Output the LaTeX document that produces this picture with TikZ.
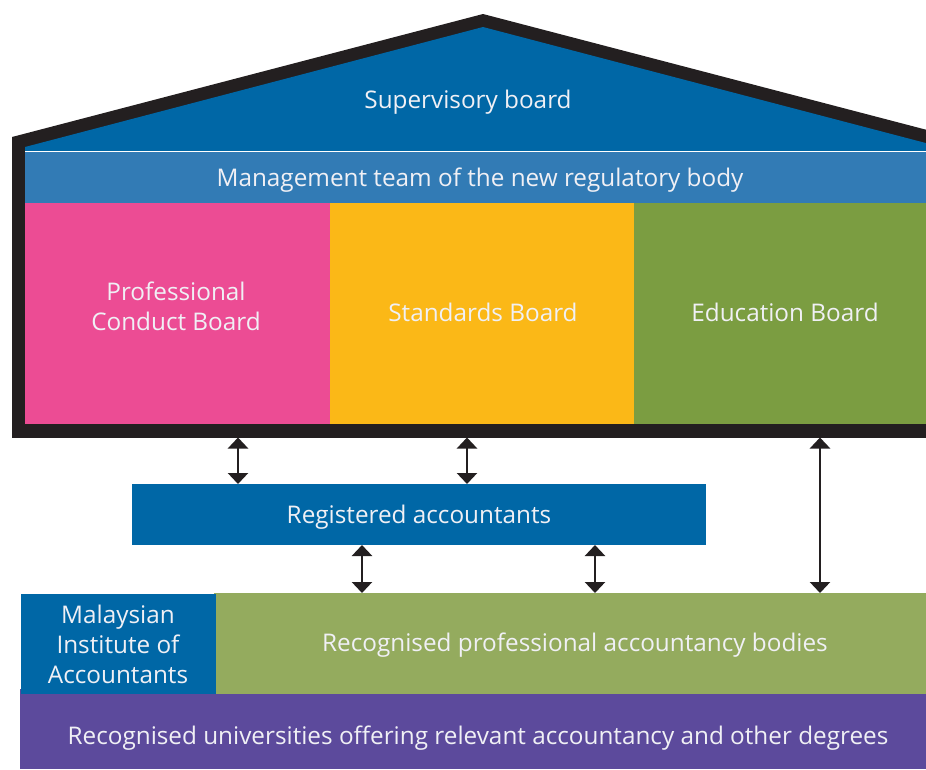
\documentclass[tikz,border=0pt]{standalone}
\usepackage{fontspec}
\setmainfont{Open Sans}
\usetikzlibrary{arrows.meta}
\definecolor{roofblue}{RGB}{0,103,166}
\definecolor{mgmtblue}{RGB}{50,123,181}
\definecolor{pinkc}{RGB}{236,76,148}
\definecolor{yellowc}{RGB}{251,184,23}
\definecolor{greenc}{RGB}{123,157,65}
\definecolor{lgreen}{RGB}{148,171,94}
\definecolor{purplec}{RGB}{92,74,156}
\definecolor{housek}{RGB}{35,31,32}
\definecolor{txt}{RGB}{240,240,245}
\begin{document}
\begin{tikzpicture}[x=1pt,y=-1pt,
  box/.style={draw=none,inner sep=0pt,outer sep=0pt,text=txt,align=center,
    font=\fontsize{24.3}{30}\selectfont},
  dar/.style={{Triangle[width=20pt,length=11pt]}-{Triangle[width=20pt,length=11pt]},
    line width=2.6pt,draw=housek}]
\useasboundingbox (0,0) rectangle (926,769);
\begin{scope}
\clip (0,0) rectangle (926,769);
% house outline
\fill[housek] (12,137) -- (483,14) -- (954,137) -- (954,437) -- (12,437) -- cycle;
% roof interior
\fill[roofblue] (25,147) -- (483,27) -- (941,147) -- (941,151) -- (25,151) -- cycle;
\fill[white] (25,151) rectangle (941,152.3);
\node[box,fill=mgmtblue,minimum width=916pt,minimum height=51pt,anchor=north west] (mgmt) at (25,152) {};
\node[box,anchor=center] (sup) at (468,102.5) {Supervisory board};
\node[box] at (480,180) {Management team of the new regulatory body};
\node[box,fill=pinkc,minimum width=305pt,minimum height=220.5pt,anchor=north west] (pcb) at (25,203) {};
\node[box,fill=yellowc,minimum width=304pt,minimum height=220.5pt,anchor=north west] (sb) at (330,203) {};
\node[box,fill=greenc,minimum width=307pt,minimum height=220.5pt,anchor=north west] (eb) at (634,203) {};
\node[box] at (176,306) {Professional\\Conduct Board};
\node[box] at (483,312) {Standards Board};
\node[box] at (785,312) {Education Board};
\node[box,fill=housek,minimum width=942pt,minimum height=14pt,anchor=north west] (wall) at (12,423.5) {};
% lower boxes
\node[box,fill=roofblue,minimum width=574pt,minimum height=61pt,anchor=north west] (reg) at (132,484) {};
\node[box] at (419,517) {Registered accountants};
\node[box,fill=purplec,minimum width=910pt,minimum height=80pt,anchor=north west] (uni) at (20,689) {};
\node[box] at (478,738) {Recognised universities offering relevant accountancy and other degrees};
\node[box,fill=lgreen,minimum width=714pt,minimum height=101pt,anchor=north west] (rpab) at (214,593) {};
\node[box,fill=roofblue,minimum width=195pt,minimum height=100pt,anchor=north west] (mia) at (21,594) {};
\node[box] at (118,644) {Malaysian\\Institute of\\Accountants};
\node[box] at (575,645.5) {Recognised professional accountancy bodies};
\end{scope}
% arrows
\draw[dar] (wall.south -| 238,0) -- (reg.north -| 238,0);
\draw[dar] (wall.south -| 467,0) -- (reg.north -| 467,0);
\draw[dar] (reg.south -| 362,0) -- (rpab.north -| 362,0);
\draw[dar] (reg.south -| 595,0) -- (rpab.north -| 595,0);
\draw[dar] (wall.south -| 820,0) -- (rpab.north -| 820,0);
\end{tikzpicture}
\end{document}
